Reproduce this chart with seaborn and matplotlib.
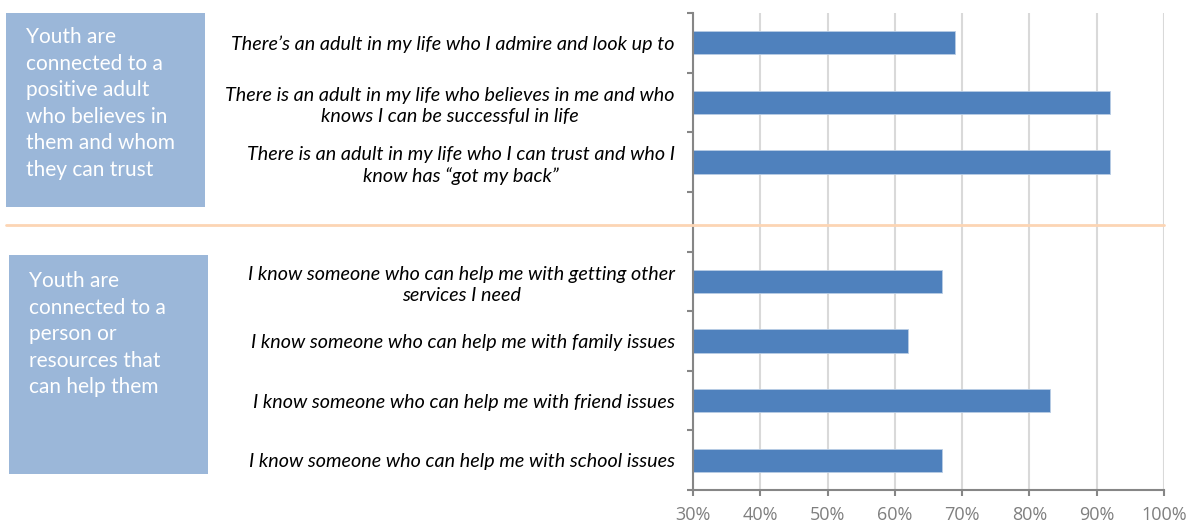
import matplotlib
matplotlib.use("Agg")
import matplotlib.pyplot as plt
import matplotlib.ticker as mticker
from matplotlib.patches import Rectangle
from matplotlib.lines import Line2D
import seaborn as sns
import pandas as pd

# ---- data ----
categories = [
    "There\u2019s an adult in my life who I admire and look up to",
    "There is an adult in my life who believes in me and who\nknows I can be successful in life",
    "There is an adult in my life who I can trust and who I\nknow has \u201cgot my back\u201d",
    "I know someone who can help me with getting other\nservices I need",
    "I know someone who can help me with family issues",
    "I know someone who can help me with friend issues",
    "I know someone who can help me with school issues",
]
values = [69, 92, 92, 67, 62, 83, 67]
spacer = " "
order = categories[:3] + [spacer] + categories[3:]
group_labels = [
    "Youth are\nconnected to a\npositive adult\nwho believes in\nthem and whom\nthey can trust",
    "Youth are\nconnected to a\nperson or\nresources that\ncan help them",
]
xticks = [30, 40, 50, 60, 70, 80, 90, 100]

df = pd.DataFrame({"item": categories, "pct": values})

sns.set_theme(style="white")
plt.rcParams["font.family"] = ["Lato", "DejaVu Sans"]

W, H = 1190, 525
fig = plt.figure(figsize=(W / 100, H / 100), dpi=100)
ax = fig.add_axes([693 / W, 1 - 490 / H, (1164 - 693) / W, (490 - 13) / H])

sns.barplot(data=df, x="pct", y="item", order=order, color="#4F81BD",
            saturation=1, width=0.39, edgecolor="#B9CDE5", linewidth=0.6,
            ax=ax, orient="h")

ax.set_xlim(30, 100)
ax.set_ylim(len(order) - 0.5, -0.5)
ax.set_xticks(xticks)
ax.xaxis.set_major_formatter(mticker.FuncFormatter(lambda v, p: f"{v:.0f}%"))
ax.set_xlabel("")
ax.set_ylabel("")

# grid
ax.grid(axis="x", color="#D9D9D9", linewidth=1.5)
ax.grid(axis="y", visible=False)
ax.set_axisbelow(True)

# spines
for s in ["top", "right"]:
    ax.spines[s].set_visible(False)
for s in ["left", "bottom"]:
    ax.spines[s].set_color("#868686")
    ax.spines[s].set_linewidth(1.5)

# y tick labels at centers, tick marks at boundaries
ax.set_yticks(range(len(order)))
ax.set_yticklabels(order)
ax.set_yticks([i - 0.5 for i in range(len(order) + 1)], minor=True)
ax.tick_params(axis="y", which="major", length=0, pad=13, labelsize=14.2,
               labelcolor="black")
ax.tick_params(axis="y", which="minor", left=True, length=4.5, width=1.5,
               color="#868686", direction="out")
for lbl in ax.get_yticklabels():
    lbl.set_fontstyle("italic")
    lbl.set_multialignment("center")
    lbl.set_linespacing(1.3)
    lbl.set_family(["Lato", "DejaVu Sans"])

ax.tick_params(axis="x", which="major", bottom=True, length=4, width=1.5,
               color="#868686", direction="out", pad=7.5, labelsize=13,
               labelcolor="#7F7F7F")
for lbl in ax.get_xticklabels():
    lbl.set_family(["Open Sans", "DejaVu Sans"])

# separator line across figure
fig.add_artist(Line2D([6 / W, 1164 / W], [1 - 225 / H, 1 - 225 / H],
                      color="#FCD5B4", linewidth=2, zorder=5))

# group boxes
boxes = [(6, 13, 205, 207), (9, 255, 208, 474)]
text_pos = [(26, 27), (29, 271)]
for (x0, y0, x1, y1), (tx, ty), txt in zip(boxes, text_pos, group_labels):
    fig.add_artist(Rectangle((x0 / W, 1 - y1 / H), (x1 - x0) / W, (y1 - y0) / H,
                             transform=fig.transFigure, facecolor="#9BB7D9",
                             edgecolor="none"))
    fig.text(tx / W, 1 - ty / H, txt, color="white", fontsize=15,
             ha="left", va="top", linespacing=1.41,
             family=["Lato", "DejaVu Sans"])

fig.savefig("out.png", dpi=100)
